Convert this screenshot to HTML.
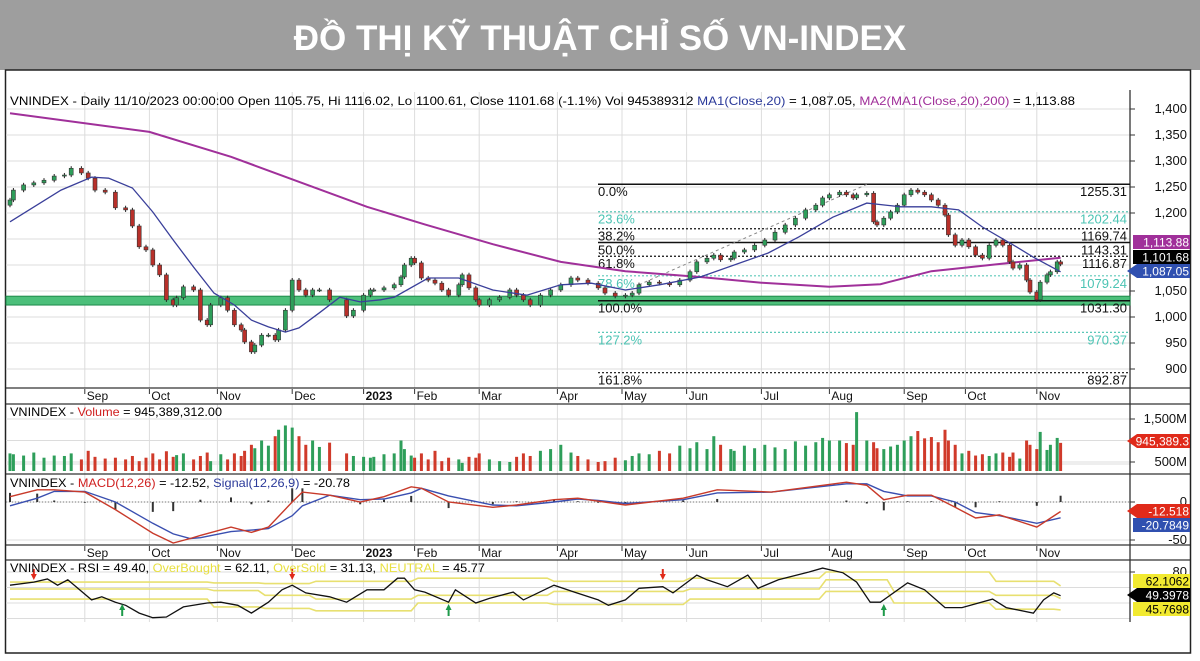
<!DOCTYPE html>
<html><head><meta charset="utf-8">
<style>
html,body{margin:0;padding:0;background:#fff;}
svg{display:block;font-family:"Liberation Sans",Arial,sans-serif;}
</style></head>
<body>
<svg id="chart" width="1200" height="661" viewBox="0 0 1200 661">
  <rect x="0" y="0" width="1200" height="70" fill="#9e9e9e"/>
  <text x="600" y="50" text-anchor="middle" font-size="35" font-weight="bold" fill="#fff">ĐỒ THỊ KỸ THUẬT CHỈ SỐ VN-INDEX</text>
  <rect x="5.5" y="70" width="1185" height="583" fill="#fff" stroke="#222" stroke-width="1.5"/>
  <g id="grid"></g>
  <g id="main"></g>
  <g id="vol"></g>
  <g id="macd"></g>
  <g id="rsi"></g>
  <g id="axis"></g>
  <text x="10" y="105" font-size="12" fill="#000" textLength="1065" lengthAdjust="spacingAndGlyphs">VNINDEX - Daily 11/10/2023 00:00:00 Open 1105.75, Hi 1116.02, Lo 1100.61, Close 1101.68 (-1.1%) Vol 945389312 <tspan fill="#2b3a9a">MA1(Close,20)</tspan> = 1,087.05, <tspan fill="#a0309a">MA2(MA1(Close,20),200)</tspan> = 1,113.88</text>
  <text x="10" y="416" font-size="12" textLength="212" lengthAdjust="spacingAndGlyphs">VNINDEX - <tspan fill="#d02020">Volume</tspan> = 945,389,312.00</text>
  <text x="10" y="487" font-size="12" textLength="340" lengthAdjust="spacingAndGlyphs">VNINDEX - <tspan fill="#d02020">MACD(12,26)</tspan> = -12.52, <tspan fill="#2b3a9a">Signal(12,26,9)</tspan> = -20.78</text>
  <text x="10" y="572" font-size="12" textLength="475" lengthAdjust="spacingAndGlyphs">VNINDEX - RSI = 49.40, <tspan fill="#e8e040">OverBought</tspan> = 62.11, <tspan fill="#e8e040">OverSold</tspan> = 31.13, <tspan fill="#e8e040">NEUTRAL</tspan> = 45.77</text>
</svg>
<script>
// ---- data ----
const candleDays = [0,1,4,7,10,13,16,18,21,23,25,28,31,34,36,38,40,42,44,46,48,49,51,54,56,58,59,62,64,66,68,69,71,72,74,76,78,79,81,83,85,87,89,91,94,99,101,104,106,
107,110,113,115,116,118,119,121,123,125,127,129,132,133,135,137,138,141,144,147,149,151,153,156,159,162,165,167,170,173,175,178,181,183,185,188,191,194,197,200,202,205,207,209,212,
213,216,219,222,225,228,231,234,237,239,241,244,246,248,249,252,254,255,257,259,261,263,265,267,269,271,273,275,276,278,280,282,284,286,288,290,292,294,295,297,299,300,302,303,305,306,308,309];
const closes = [1225,1244,1254,1258,1263,1271,1273,1286,1277,1267,1244,1240,1210,1206,1175,1135,1129,1100,1081,1033,1023,1037,1058,1052,994,985,1023,1037,1013,985,975,952,933,946,965,965,956,975,1013,1071,1052,1042,1052,1052,1033,1002,1013,1042,1052,
1052,1056,1062,1077,1100,1113,1104,1075,1071,1065,1052,1042,1062,1081,1056,1033,1023,1033,1038,1052,1042,1033,1023,1042,1052,1062,1075,1071,1065,1056,1046,1040,1042,1046,1062,1067,1065,1062,1071,1087,1106,1113,1119,1110,1113,
1125,1129,1138,1148,1163,1177,1190,1206,1215,1229,1235,1240,1235,1229,1235,1238,1183,1177,1190,1202,1215,1235,1244,1240,1235,1225,1215,1196,1158,1138,1148,1135,1119,1113,1138,1148,1138,1106,1094,1100,1071,1048,1033,1067,1081,1087,1106,1101.68];
const volumesM = [700,680,650,720,600,650,640,700,560,760,620,580,600,560,640,520,600,700,560,750,620,660,700,560,640,720,520,680,560,700,640,760,900,820,1000,880,1100,1250,1350,1300,1100,900,1000,850,950,700,640,620,600,
620,680,700,1000,800,650,600,700,560,760,520,600,560,480,620,600,700,560,520,500,620,700,640,760,800,900,720,640,560,500,520,600,540,640,700,680,760,700,880,820,960,800,1100,900,800,
760,880,820,900,840,800,980,880,960,1060,1000,1000,940,900,1660,1000,960,820,800,860,900,1000,1100,1220,1050,1080,960,1250,1000,900,700,760,650,680,640,700,720,620,720,580,1000,900,800,1200,780,900,1060,945];
const ma20Days = [0,15,24,29,36,42,48,54,60,66,71,76,81,85,91,97,103,109,113,123,132,142,152,162,171,181,191,203,223,232,242,252,262,271,279,286,296,301,309];
const ma20Vals = [1183,1244,1269,1267,1248,1202,1148,1096,1046,1023,994,981,971,979,1008,1038,1029,1033,1038,1075,1075,1052,1042,1062,1065,1052,1062,1077,1123,1154,1192,1219,1212,1212,1206,1173,1135,1115,1087];
const ma200Days = [0,41,65,105,122,142,162,181,203,221,241,256,271,291,309];
const ma200Vals = [1392,1356,1308,1212,1178,1140,1106,1088,1077,1066,1058,1063,1088,1102,1114];
const fibLabels = ["0.0%","23.6%","38.2%","50.0%","61.8%","78.6%","100.0%","127.2%","161.8%"];
const fibValues = [1255.31,1202.44,1169.74,1143.31,1116.87,1079.24,1031.30,970.37,892.87];
const priceTicks = [1400,1350,1300,1250,1200,1150,1100,1050,1000,950,900];
const macdDays = [0,8,13,22,31,42,48,53,56,65,71,76,83,86,94,103,110,118,121,129,142,149,160,167,173,181,198,208,224,246,252,257,264,271,278,284,291,302,309];
const macdVals = [7,16,16,13,-10,-41,-54,-48,-44,-33,-40,-33,0,13,9,0,7,20,18,0,-7,-4,3,5,1,-4,5,16,13,26,22,3,9,9,-7,-21,-17,-33,-12.52];
const signalVals = [-5,5,14,14,0,-28,-42,-48,-47,-39,-37,-35,-18,-5,9,3,4,12,18,8,-4,-5,0,4,2,-2,3,12,13,24,24,14,8,8,0,-14,-18,-28,-20.78];
const rsiDays = [0,7,11,14,17,24,27,31,34,38,42,46,51,58,62,67,71,76,80,83,87,94,99,105,110,114,116,119,122,129,131,137,141,148,151,160,166,173,176,181,185,192,195,202,205,211,217,220,226,235,239,245,249,253,256,264,269,275,280,289,293,301,304,307,309];
const rsiVals = [63,67,71,63,70,44,48,41,37,27,21,22,35,40,41,37,27,41,57,63,53,48,41,57,57,72,72,57,54,41,57,40,46,54,44,63,54,44,37,44,59,61,53,76,70,61,76,59,70,80,85,79,67,41,41,66,57,34,34,45,34,27,44,53,49.4];
const bandDays = [0,60,75,90,120,160,200,240,260,290,309];
const obVals = [67,66,65,68,72,68,72,80,80,68,62.1];
const neuVals = [58,56,50,45,50,55,58,70,55,50,45.8];
const osVals = [45,35,33,30,40,38,45,55,40,32,31.1];
const monthNames = ["Sep","Oct","Nov","Dec","2023","Feb","Mar","Apr","May","Jun","Jul","Aug","Sep","Oct","Nov"];
const monthDays = [22,41,61,83,104,119,138,161,180,199,221,241,263,281,302];
const volTicks = [1500,1000,500];
const macdTicks = [50,0,-50];
const rsiTicks = [80,60,40,20];
const arrowDownDays = [7,83,192];
const arrowUpDays = [33,129,257];

// ---- scales ----
const NS = "http://www.w3.org/2000/svg";
const X = d => 10 + d * 3.4;
const YP = p => 317 - (p - 1000) * 0.52;
const YV = v => Math.max(404, 483.5 - v * 0.043);
const YM = v => 502 - v * 0.76;
const YR = v => 572 + (80 - v) * 0.775;
function mk(tag, attrs, parent) {
  const e = document.createElementNS(NS, tag);
  for (const k in attrs) e.setAttribute(k, attrs[k]);
  parent.appendChild(e);
  return e;
}
const g = id => document.getElementById(id);
function poly(days, vals, yf) { return days.map((d, i) => X(d).toFixed(1) + "," + yf(vals[i]).toFixed(1)).join(" "); }

// ---- grid ----
const grid = g("grid");
monthDays.forEach((d, i) => {
  [[92, 388], [404, 545], [560, 622]].forEach(r => {
    const l = mk("line", {x1: X(d), x2: X(d), y1: r[0], y2: r[1], stroke: "#dcdcdc", "stroke-width": 1}, grid);
    
    
  });
  [400, 557].forEach(yy => {
    const t = mk("text", {x: X(d) + 2, y: yy, "font-size": 12, "font-weight": monthNames[i] === "2023" ? "bold" : "normal", fill: "#111"}, grid);
    t.textContent = monthNames[i];
    
    
    const tk = mk("line", {x1: X(d), x2: X(d), y1: yy - 11, y2: yy - 6, stroke: "#333"}, grid);
    
    
  });
});
priceTicks.forEach(p => {
  const l = mk("line", {x1: 6, x2: 1130, y1: YP(p), y2: YP(p), stroke: "#dcdcdc"}, grid);
  
  
});
volTicks.forEach(v => {
  const l = mk("line", {x1: 6, x2: 1130, y1: YV(v), y2: YV(v), stroke: "#dcdcdc"}, grid);
  
  
});
macdTicks.forEach(v => {
  const l = mk("line", {x1: 6, x2: 1130, y1: YM(v), y2: YM(v), stroke: "#dcdcdc"}, grid);
  
  
});
rsiTicks.forEach(v => {
  const l = mk("line", {x1: 6, x2: 1130, y1: YR(v), y2: YR(v), stroke: "#dcdcdc"}, grid);
  
  
});
[[388], [404], [474], [545], [560]].forEach(r => {
  const l = mk("line", {x1: 6, x2: 1190, y1: r[0], y2: r[0], stroke: "#333", "stroke-width": 1.3}, grid);
  
  
});
const vs = mk("line", {x1: 1130, x2: 1130, y1: 90, y2: 622, stroke: "#333", "stroke-width": 1.3}, grid);



// ---- main panel ----
const main = g("main");
const band = mk("rect", {x: 6, y: YP(1040), width: 1124, height: YP(1023) - YP(1040), fill: "#4cbf7a", stroke: "#1e8a4a", "stroke-width": 1}, main);


fibValues.forEach((v, i) => {
  const solid = [0, 3, 6].includes(i);
  const teal = [1, 5, 7].includes(i);
  const l = mk("line", {x1: 598, x2: 1130, y1: YP(v), y2: YP(v), stroke: teal ? "#5cc8b8" : "#111", "stroke-width": solid ? 1.5 : 1.2, "stroke-dasharray": solid ? "none" : "2,2"}, main);
  
  
  const t1 = mk("text", {x: 598, y: YP(v) + 12, "font-size": 13, fill: teal ? "#4cc4b4" : "#111"}, main);
  t1.textContent = fibLabels[i];
  
  
  const t2 = mk("text", {x: 1127, y: YP(v) + 12, "font-size": 13, "text-anchor": "end", fill: teal ? "#4cc4b4" : "#111"}, main);
  t2.textContent = v.toFixed(2);
  
  
});
const tl = mk("line", {x1: X(185), y1: YP(1062), x2: X(252), y2: YP(1255), stroke: "#888", "stroke-dasharray": "3,3"}, main);


const m200 = mk("polyline", {points: poly(ma200Days, ma200Vals, YP), fill: "none", stroke: "#a0309a", "stroke-width": 2}, main);


closes.forEach((c, i) => {
  const o = i === 0 ? 1215 : closes[i - 1];
  const up = c >= o;
  const x = X(candleDays[i]);
  const w = mk("line", {x1: x, x2: x, y1: YP(Math.max(o, c) + 4), y2: YP(Math.min(o, c) - 4), stroke: "#222"}, main);
  
  
  const r = mk("rect", {x: x - 2, y: YP(Math.max(o, c)), width: 4, height: Math.max(1, Math.abs(YP(o) - YP(c))), fill: up ? "#2e9e5a" : "#b8302a", stroke: "#333", "stroke-width": 0.6}, main);
  
  
});
const m20 = mk("polyline", {points: poly(ma20Days, ma20Vals, YP), fill: "none", stroke: "#3a3f9a", "stroke-width": 1.3}, main);



// ---- volume ----
const vol = g("vol");
volumesM.forEach((v, i) => {
  const up = i === 0 ? true : closes[i] >= closes[i - 1];
  const y = YV(v);
  const r = mk("rect", {x: X(candleDays[i]) - 1.5, y: y, width: 3, height: Math.max(0, 471 - y), fill: up ? "#2e9e5a" : "#d03a2a"}, vol);
  
  
});

// ---- MACD ----
const macd = g("macd");
const zl = mk("line", {x1: 6, x2: 1130, y1: YM(0), y2: YM(0), stroke: "#777", "stroke-dasharray": "1,2"}, macd);


macdVals.forEach((v, i) => {
  const h = v - signalVals[i];
  const r = mk("rect", {x: X(macdDays[i]) - 1, y: Math.min(YM(0), YM(h)), width: 2, height: Math.abs(YM(h) - YM(0)), fill: "#333"}, macd);
  
  
});
const sl = mk("polyline", {points: poly(macdDays, signalVals, YM), fill: "none", stroke: "#3a4fb0", "stroke-width": 1.4}, macd);


const ml = mk("polyline", {points: poly(macdDays, macdVals, YM), fill: "none", stroke: "#c83a2a", "stroke-width": 1.4}, macd);



// ---- RSI ----
const rsi = g("rsi");
[[obVals, 'overbought-line'], [neuVals, 'neutral-line'], [osVals, 'oversold-line']].forEach(a => {
  const pts = [];
  bandDays.forEach((d, i) => {
    if (i > 0) pts.push(X(d - 2).toFixed(1) + "," + YR(a[0][i - 1]).toFixed(1));
    pts.push(X(d).toFixed(1) + "," + YR(a[0][i]).toFixed(1));
  });
  const p = mk("polyline", {points: pts.join(" "), fill: "none", stroke: "#e8e070", "stroke-width": 1.6}, rsi);
  
  
});
const rl = mk("polyline", {points: poly(rsiDays, rsiVals, YR), fill: "none", stroke: "#111", "stroke-width": 1.3}, rsi);


arrowDownDays.forEach(d => {
  const x = X(d);
  const a = mk("path", {d: `M${x - 3},574 L${x + 3},574 L${x},580 Z M${x - 1},569 h2 v5 h-2 Z`, fill: "#e02a1a"}, rsi);
  
  
});
arrowUpDays.forEach(d => {
  const x = X(d);
  const a = mk("path", {d: `M${x - 3},610 L${x + 3},610 L${x},604 Z M${x - 1},610 h2 v6 h-2 Z`, fill: "#1e9a4a"}, rsi);
  
  
});

// ---- right axis ----
const ax = g("axis");
function axLabel(txt, y, name) {
  const t = mk("text", {x: 1187, y: y + 4, "font-size": 13, "text-anchor": "end", fill: "#111"}, ax);
  t.textContent = txt;
  
  
  const k = mk("line", {x1: 1130, x2: 1135, y1: y, y2: y, stroke: "#333"}, ax);
  
  
}
priceTicks.forEach(p => { if (p !== 1150 && p !== 1100) axLabel(p.toLocaleString("en-US"), YP(p), 'price-tick-label'); });
axLabel("1,500M", YV(1500), 'volume-tick-label');
axLabel("500M", YV(500), 'volume-tick-label');
axLabel("0", YM(0), 'macd-tick-label');
axLabel("-50", YM(-50), 'macd-tick-label');
axLabel("80", YR(80), 'rsi-tick-label');
function tag(txt, y, bg, fg, arrow, name) {
  const x0 = 1133;
  const d = arrow ? `M${x0 - 6},${y} L${x0 + 4},${y - 7} H1190 V${y + 7} H${x0 + 4} Z` : `M${x0},${y - 7} H1190 V${y + 7} H${x0} Z`;
  const p = mk("path", {d: d, fill: bg}, ax);
  
  
  const t = mk("text", {x: 1189, y: y + 4.5, "font-size": 12, "text-anchor": "end", fill: fg}, ax);
  t.textContent = txt;
  
  
}
tag("1,113.88", 242, "#a0309a", "#fff", false, 'ma200-value-tag');
tag("1,101.68", 257, "#000", "#fff", false, 'close-value-tag');
tag("1,087.05", 271, "#3050b0", "#fff", true, 'ma20-value-tag');
tag("945,389.3", 441, "#e02a1a", "#fff", true, 'volume-value-tag');
tag("-12.518", 511, "#e02a1a", "#fff", true, 'macd-value-tag');
tag("-20.7849", 525, "#3050b0", "#fff", false, 'signal-value-tag');
tag("62.1062", 581, "#f2ea30", "#000", false, 'overbought-value-tag');
tag("49.3978", 595, "#000", "#fff", true, 'rsi-value-tag');
tag("45.7698", 609, "#f2ea30", "#000", false, 'neutral-value-tag');
</script>
</body></html>
